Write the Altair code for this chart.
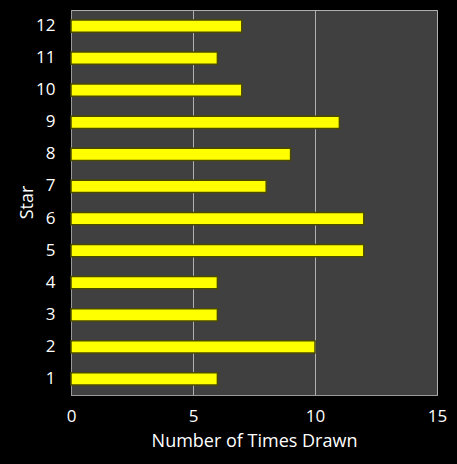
import altair as alt
import pandas as pd

stars = [1, 2, 3, 4, 5, 6, 7, 8, 9, 10, 11, 12]
times_drawn = [6, 10, 6, 6, 12, 12, 8, 9, 11, 7, 6, 7]

df = pd.DataFrame({"Star": stars, "Count": times_drawn})

font = "Open Sans"

chart = alt.Chart(df).mark_bar(
    color="#ffff00", stroke="#4a4a00", strokeWidth=1.5
).encode(
    x=alt.X("Count:Q", scale=alt.Scale(domain=[0, 15]),
            axis=alt.Axis(values=[0, 5, 10, 15], title="Number of Times Drawn",
                          grid=True, gridColor="#b0b0b0", gridWidth=1,
                          domainColor="#9a9a9a", ticks=False, labelFlush=False,
                          labelColor="white", labelFontSize=17, labelFont=font,
                          labelPadding=13, titleColor="white", titleFontSize=18,
                          titleFont=font, titleFontWeight="normal", titlePadding=8)),
    y=alt.Y("Star:O", sort="descending",
            scale=alt.Scale(paddingInner=0.62, paddingOuter=0.31),
            axis=alt.Axis(title="Star", labelColor="white", labelFontSize=17,
                          labelFont=font, labelPadding=16, ticks=False,
                          domainColor="#9a9a9a", labelAngle=0,
                          titleColor="white", titleFontSize=18, titleFont=font,
                          titleFontWeight="normal", titleX=-35, titleY=192,
                          titleAngle=270, titleBaseline="bottom", titleAlign="center")),
).properties(
    width=366, height=385,
    background="black",
    padding={"left": 71, "top": 10, "right": 20, "bottom": 69},
    autosize=alt.AutoSizeParams(type="none"),
).configure_view(fill="#404040", stroke="#b0b0b0", strokeWidth=1)

chart.save("out.html", embed_options={"renderer": "svg", "actions": False})
